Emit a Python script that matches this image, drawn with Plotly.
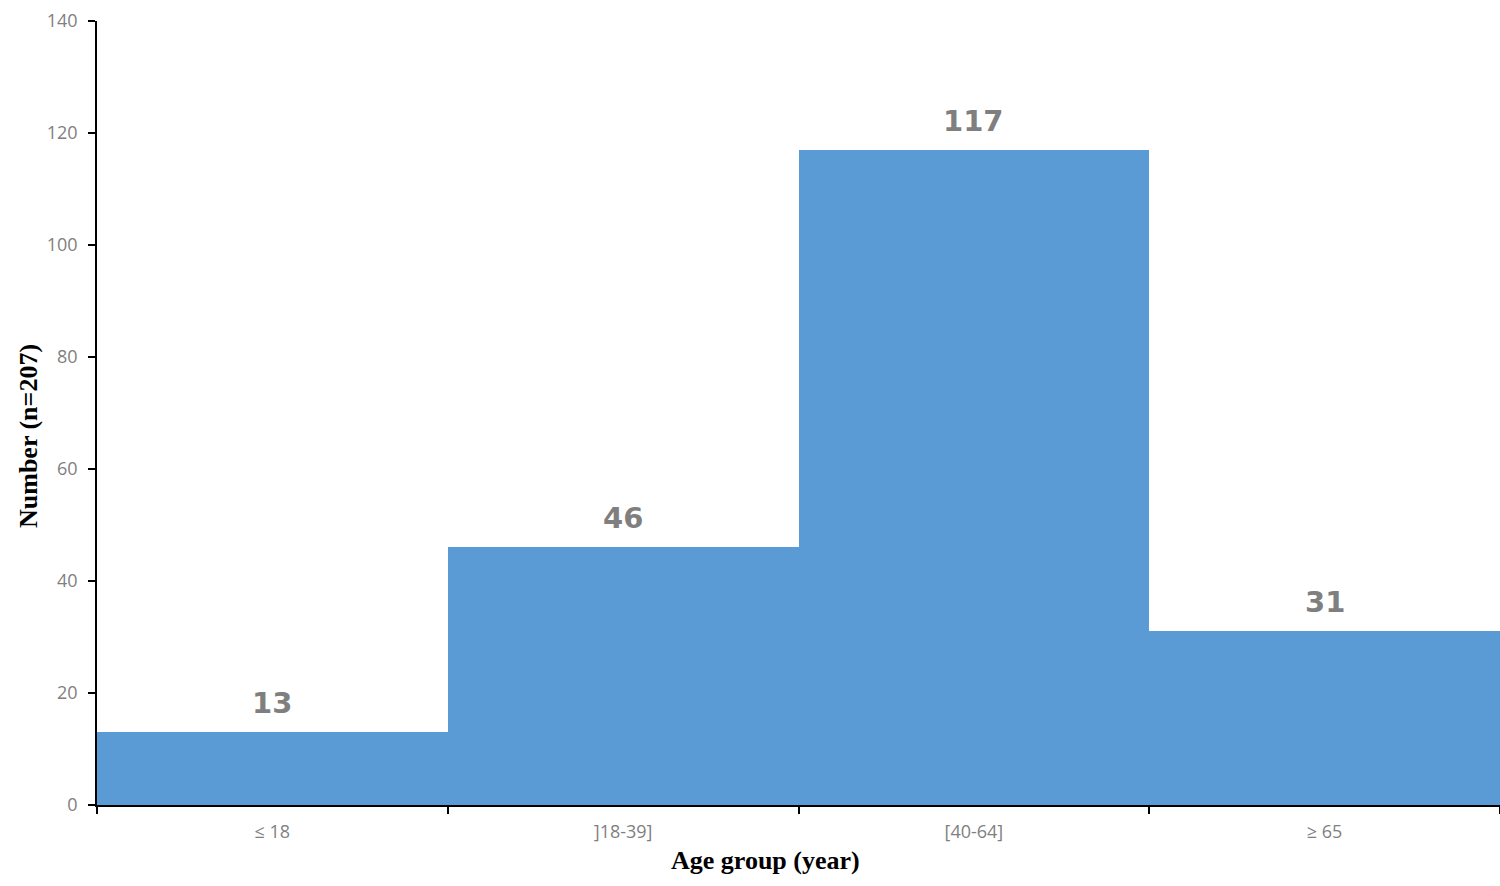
import plotly.graph_objects as go

categories = ["≤ 18", "]18-39]", "[40-64]", "≥ 65"]
counts = [13, 46, 117, 31]
y_ticks = [0, 20, 40, 60, 80, 100, 120, 140]

fig = go.Figure()
fig.add_trace(go.Bar(
    x=categories, y=counts, width=1.0,
    marker=dict(color="#5B9BD5", line=dict(width=0)),
    hoverinfo="skip",
))

for c, v in zip(categories, counts):
    fig.add_annotation(
        x=c, y=v, text=str(v), showarrow=False, yanchor="bottom", yshift=10,
        font=dict(family="DejaVu Sans", size=29, color="#7F7F7F", weight="bold"),
    )

title_font = dict(family="Liberation Serif", size=26, color="black", weight="bold")
fig.add_annotation(
    text="Age group (year)", xref="paper", yref="paper", x=0, y=0,
    xanchor="center", yanchor="middle", xshift=668, yshift=-55,
    showarrow=False, font=title_font,
)
fig.add_annotation(
    text="Number (n=207)", xref="paper", yref="paper", x=0, y=0,
    xanchor="center", yanchor="middle", xshift=-69, yshift=369,
    textangle=-90, showarrow=False, font=title_font,
)

fig.update_layout(
    width=1500, height=886,
    margin=dict(l=97, r=0, t=21, b=81),
    paper_bgcolor="white", plot_bgcolor="white",
    showlegend=False, bargap=0,
    font=dict(family="Open Sans", color="#7F7F7F"),
)
fig.update_xaxes(
    type="category", tickson="boundaries", ticks="outside", ticklen=7,
    tickcolor="black", tickwidth=1.5,
    showline=True, linecolor="black", linewidth=1.5,
    showgrid=False, zeroline=False, ticklabelstandoff=10,
    tickfont=dict(family="Open Sans", size=18, color="#7F7F7F"),
)
fig.update_yaxes(
    range=[0, 140], tickvals=y_ticks, ticks="outside", ticklen=7,
    tickcolor="black", tickwidth=1.5,
    showline=True, linecolor="black", linewidth=1.5,
    showgrid=False, zeroline=False, ticklabelstandoff=7,
    tickfont=dict(family="Open Sans", size=18, color="#7F7F7F"),
)

fig.write_html(
    "out.html",
    config={"displayModeBar": False},
    post_script="document.body.style.margin='0';document.body.style.overflow='hidden';",
)
